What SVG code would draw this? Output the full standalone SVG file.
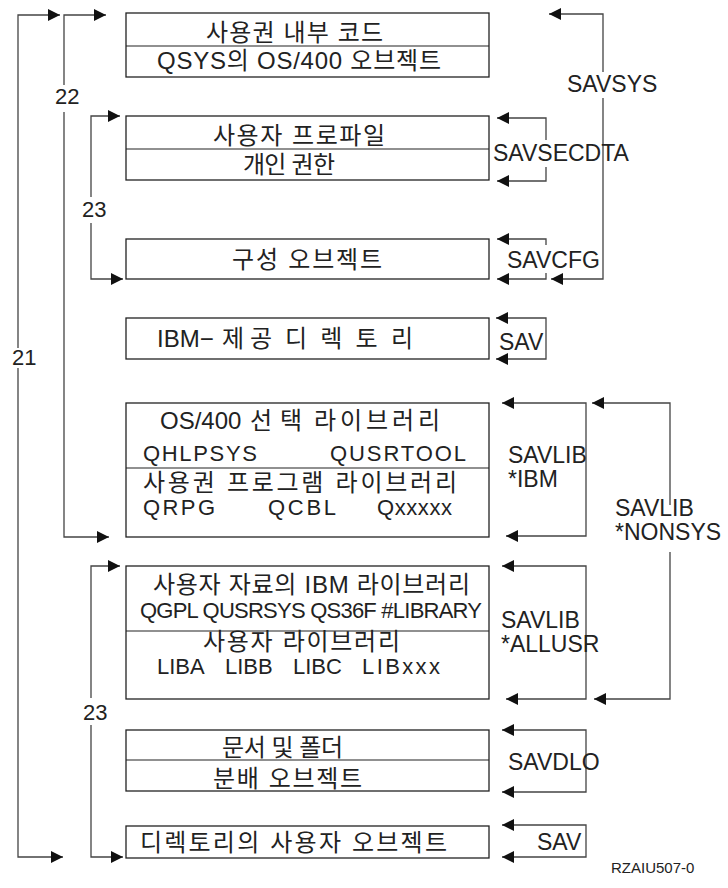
<svg xmlns="http://www.w3.org/2000/svg" width="728" height="888" viewBox="0 0 728 888">
<style>
.box{fill:#fff;stroke:#222;stroke-width:1.3}
.div{stroke:#222;stroke-width:1.2}
.t{font-family:"Liberation Sans","Noto Sans CJK KR",sans-serif;font-size:24px;fill:#222}
.q{font-family:"Liberation Sans",sans-serif;font-size:22px;fill:#222}
.lb{font-family:"Liberation Sans",sans-serif;font-size:23px;fill:#222}
.num{font-family:"Liberation Sans",sans-serif;font-size:22px;fill:#222}
.ln{fill:none;stroke:#444;stroke-width:1.3}
.s{marker-start:url(#ah)}
.e{marker-end:url(#ah)}
</style>
<defs>
<marker id="ah" viewBox="0 0 12 12" refX="12" refY="6" markerWidth="12" markerHeight="12" markerUnits="userSpaceOnUse" orient="auto-start-reverse">
<path d="M0,0 L12,6 L0,12 z" fill="#111"/>
</marker>
</defs>
<rect width="728" height="888" fill="#fff"/>

<g id="connectors">
<path class="ln s" d="M60,15 H18 V348"/>
<path class="ln e" d="M18,368 V857 H63"/>
<path class="ln s" d="M106,15 H64 V85"/>
<path class="ln e" d="M64,112 V537 H109"/>
<path class="ln s" d="M120,116 H91 V197"/>
<path class="ln e" d="M91,223 V279 H123"/>
<path class="ln s" d="M120,566 H91 V698"/>
<path class="ln e" d="M91,725 V857 H123"/>
<path class="ln s" d="M549,14 H603 V72"/>
<path class="ln e" d="M603,98 V279 H551"/>
<path class="ln s" d="M497,118 H546 V140"/>
<path class="ln e" d="M546,167 V181 H497"/>
<path class="ln s" d="M497,239 H546 V245"/>
<path class="ln e" d="M546,273 V279 H497"/>
<path class="ln s e" d="M496,318 H546 V359 H496"/>
<path class="ln s e" d="M502,403 H586 V536 H506"/>
<path class="ln s" d="M592,403 H670 V505"/>
<path class="ln e" d="M670,552 V699 H594"/>
<path class="ln s e" d="M502,566 H586 V699 H506"/>
<path class="ln s e" d="M502,730 H586 V792 H502"/>
<path class="ln s e" d="M502,825 H586 V857 H502"/>
</g>

<g id="connector-labels">
<text class="num" x="12" y="365">21</text>
<text class="num" x="55" y="104">22</text>
<text class="num" x="82" y="217">23</text>
<text class="num" x="83" y="720">23</text>
<text class="lb" x="567" y="92">SAVSYS</text>
<text class="lb" x="493" y="161">SAVSECDTA</text>
<text class="lb" x="507" y="268">SAVCFG</text>
<text class="lb" x="499" y="350">SAV</text>
<text class="lb" x="508" y="463">SAVLIB</text>
<text class="lb" x="508" y="487">*IBM</text>
<text class="lb" x="615" y="516">SAVLIB</text>
<text class="lb" x="615" y="540">*NONSYS</text>
<text class="lb" x="501" y="628">SAVLIB</text>
<text class="lb" x="501" y="652">*ALLUSR</text>
<text class="lb" x="508" y="770">SAVDLO</text>
<text class="lb" x="537" y="850">SAV</text>
</g>

<g id="n1">
<rect class="box" x="126" y="13" width="363" height="64"/>
<line class="div" x1="126" y1="46" x2="489" y2="46"/>
<text class="t" x="206" y="41" textLength="177">사용권 내부 코드</text>
<text class="t" x="157" y="69" textLength="284">QSYS의 OS/400 오브젝트</text>
</g>

<g id="n2">
<rect class="box" x="126" y="116" width="363" height="64"/>
<line class="div" x1="126" y1="149" x2="489" y2="149"/>
<text class="t" x="213" y="144" textLength="172">사용자 프로파일</text>
<text class="t" x="243" y="173" textLength="92">개인 권한</text>
</g>

<g id="n3">
<rect class="box" x="126" y="239" width="363" height="40"/>
<text class="t" x="232" y="268" textLength="150">구성 오브젝트</text>
</g>

<g id="n4">
<rect class="box" x="126" y="318" width="363" height="41"/>
<text class="t" x="157" y="347">IBM−</text>
<text class="t" x="222" y="347" textLength="50">제공</text>
<text class="t" x="285" y="347" textLength="128">디렉토리</text>
</g>

<g id="n5">
<rect class="box" x="126" y="403" width="363" height="134"/>
<line class="div" x1="126" y1="468" x2="489" y2="468"/>
<text class="t" x="160" y="429">OS/400</text>
<text class="t" x="250" y="429" textLength="52">선택</text>
<text class="t" x="314" y="429" textLength="126">라이브러리</text>
<text class="q" x="143" y="461" textLength="114">QHLPSYS</text>
<text class="q" x="330" y="461" textLength="136">QUSRTOOL</text>
<text class="t" x="143" y="491" textLength="314">사용권 프로그램 라이브러리</text>
<text class="q" x="143" y="515" textLength="72">QRPG</text>
<text class="q" x="268" y="515" textLength="68">QCBL</text>
<text class="q" x="377" y="515" textLength="75">Qxxxxx</text>
</g>

<g id="n6">
<rect class="box" x="126" y="566" width="363" height="133"/>
<line class="div" x1="126" y1="631" x2="489" y2="631"/>
<text class="t" x="153" y="593" textLength="317">사용자 자료의 IBM 라이브러리</text>
<text class="q" x="140" y="618" font-size="21" textLength="342">QGPL QUSRSYS QS36F #LIBRARY</text>
<text class="t" x="203" y="650" textLength="197">사용자 라이브러리</text>
<text class="q" x="157" y="674">LIBA</text>
<text class="q" x="225" y="674">LIBB</text>
<text class="q" x="293" y="674">LIBC</text>
<text class="q" x="362" y="674" textLength="78">LIBxxx</text>
</g>

<g id="n7">
<rect class="box" x="126" y="730" width="363" height="61"/>
<line class="div" x1="126" y1="760" x2="489" y2="760"/>
<text class="t" x="222" y="756" textLength="121">문서 및 폴더</text>
<text class="t" x="213" y="787" textLength="149">분배 오브젝트</text>
</g>

<g id="n8">
<rect class="box" x="126" y="826" width="363" height="32"/>
<text class="t" x="140" y="851" textLength="307">디렉토리의 사용자 오브젝트</text>
</g>

<text x="611" y="873" font-family="Liberation Sans, sans-serif" font-size="15" fill="#222">RZAIU507-0</text>
</svg>
